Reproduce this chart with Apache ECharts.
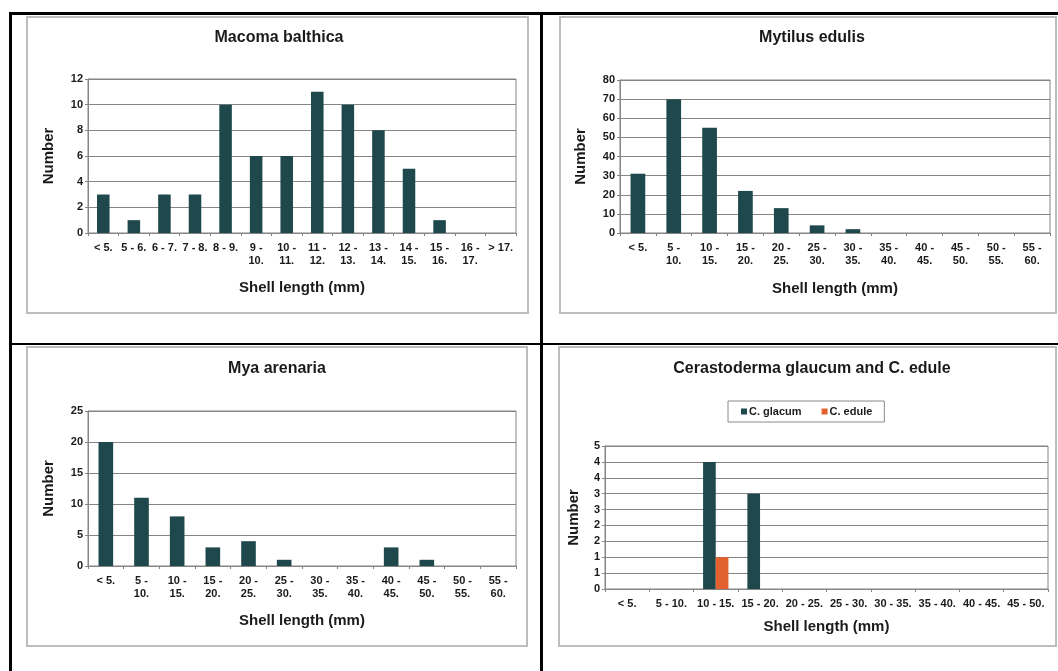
<!DOCTYPE html>
<html>
<head>
<meta charset="utf-8">
<title>Shell length distributions</title>
<script src="https://cdn.jsdelivr.net/npm/echarts@6/dist/echarts.min.js"></script>
<style>
  html, body { margin: 0; padding: 0; background: #ffffff; }
  #chart { width: 1058px; height: 671px; }
</style>
</head>
<body>
<div id="chart"></div>
<script>
// Size classes (mm)
const macomaClasses = ['< 5.', '5 - 6.', '6 - 7.', '7 - 8.', '8 - 9.', '9 - 10.', '10 - 11.', '11 - 12.', '12 - 13.', '13 - 14.', '14 - 15.', '15 - 16.', '16 - 17.', '> 17.'];
const fiveMmClasses = ['< 5.', '5 - 10.', '10 - 15.', '15 - 20.', '20 - 25.', '25 - 30.', '30 - 35.', '35 - 40.', '40 - 45.', '45 - 50.', '50 - 55.', '55 - 60.'];
const cerastodermaClasses = ['< 5.', '5 - 10.', '10 - 15.', '15 - 20.', '20 - 25.', '25 - 30.', '30 - 35.', '35 - 40.', '40 - 45.', '45 - 50.'];

// Counts per size class
const macomaCounts = [3, 1, 3, 3, 10, 6, 6, 11, 10, 8, 5, 1, 0, 0];
const mytilusCounts = [31, 70, 55, 22, 13, 4, 2, 0, 0, 0, 0, 0];
const myaCounts = [20, 11, 8, 3, 4, 1, 0, 0, 3, 1, 0, 0];
const glaucumCounts = [0, 0, 4, 3, 0, 0, 0, 0, 0, 0];
const eduleCounts = [0, 0, 1, 0, 0, 0, 0, 0, 0, 0];

// Panel titles and text
const panelTitles = ['Macoma balthica', 'Mytilus edulis', 'Mya arenaria', 'Cerastoderma glaucum and C. edule'];
const seriesNames = ['C. glacum', 'C. edule'];
const xName = 'Shell length (mm)';
const yName = 'Number';

const TEAL = '#1e484c';
const ORANGE = '#e2612f';
const GRID_GRAY = '#858585';
const TEXT = '#1a1a1a';
const FONT = '"Liberation Sans", Arial, sans-serif';

const chart = echarts.init(document.getElementById('chart'), null, { renderer: 'canvas' });

// Wrap long class labels onto two lines: "9 - 10." -> "9 -\n10."
function wrapLabel(v) {
  if (v.length > 6) {
    const i = v.lastIndexOf(' ');
    return v.slice(0, i) + '\n' + v.slice(i + 1);
  }
  return v;
}

const grids = [
  { left: 88, top: 79, width: 428, height: 154 },
  { left: 620, top: 80, width: 430, height: 153 },
  { left: 88, top: 411, width: 428, height: 155 },
  { left: 605, top: 446, width: 443, height: 143 }
].map(g => Object.assign({ show: true, borderColor: GRID_GRAY, borderWidth: 1, backgroundColor: 'transparent' }, g));

function xAxisFor(idx, data, wrap, gap) {
  return {
    type: 'category', gridIndex: idx, data: data,
    axisLine: { lineStyle: { color: GRID_GRAY, width: 1 } },
    axisTick: { show: true, length: 3, alignWithLabel: false, lineStyle: { color: GRID_GRAY } },
    axisLabel: {
      interval: 0, margin: 8, color: TEXT, fontFamily: FONT, fontWeight: 'bold', fontSize: 11, lineHeight: 13,
      formatter: wrap ? wrapLabel : null
    },
    name: xName, nameLocation: 'middle', nameGap: gap,
    nameTextStyle: { color: TEXT, fontFamily: FONT, fontWeight: 'bold', fontSize: 15 }
  };
}

function yAxisFor(idx, max, interval, gap, fmt) {
  return {
    type: 'value', gridIndex: idx, min: 0, max: max, interval: interval,
    axisLine: { show: true, lineStyle: { color: GRID_GRAY, width: 1 } },
    axisTick: { show: true, length: 3, lineStyle: { color: GRID_GRAY } },
    splitLine: { show: true, lineStyle: { color: GRID_GRAY, width: 1 } },
    axisLabel: { margin: 5, color: TEXT, fontFamily: FONT, fontWeight: 'bold', fontSize: 11, formatter: fmt || null },
    name: yName, nameLocation: 'middle', nameRotate: 90, nameGap: gap,
    nameTextStyle: { color: TEXT, fontFamily: FONT, fontWeight: 'bold', fontSize: 15 }
  };
}

function bars(name, idx, data, color, width) {
  return {
    type: 'bar', name: name, xAxisIndex: idx, yAxisIndex: idx, data: data,
    barWidth: width, barGap: '0%', itemStyle: { color: color }, silent: true, animation: false
  };
}

// Frame and panel boxes
const frame = [];
const black = { stroke: '#000000', lineWidth: 3 };
frame.push({ type: 'line', shape: { x1: 9, y1: 13.5, x2: 1058, y2: 13.5 }, style: black, z: 10 });
frame.push({ type: 'line', shape: { x1: 10.5, y1: 12, x2: 10.5, y2: 671 }, style: black, z: 10 });
frame.push({ type: 'line', shape: { x1: 541.5, y1: 12, x2: 541.5, y2: 671 }, style: black, z: 10 });
frame.push({ type: 'line', shape: { x1: 9, y1: 344, x2: 1058, y2: 344 }, style: { stroke: '#000000', lineWidth: 2 }, z: 10 });
const boxes = [[27, 17, 501, 296], [560, 17, 496, 296], [27, 347, 500, 299], [559, 347, 497, 299]];
boxes.forEach(b => frame.push({
  type: 'rect', shape: { x: b[0], y: b[1], width: b[2], height: b[3] },
  style: { fill: null, stroke: '#bdbdbd', lineWidth: 2 }, z: 1
}));
// Panel titles
const titlePos = [[279, 38], [812, 38], [277, 369], [812, 369]];
panelTitles.forEach((t, i) => frame.push({
  type: 'text', x: titlePos[i][0], y: titlePos[i][1], z: 10,
  style: { text: t, fill: TEXT, font: 'bold 16px ' + FONT, textAlign: 'center', textVerticalAlign: 'middle' }
}));

const option = {
  backgroundColor: '#ffffff',
  animation: false,
  textStyle: { fontFamily: FONT },
  grid: grids,
  xAxis: [
    xAxisFor(0, macomaClasses, true, 47),
    xAxisFor(1, fiveMmClasses, true, 48),
    xAxisFor(2, fiveMmClasses, true, 47),
    xAxisFor(3, cerastodermaClasses, false, 30)
  ],
  yAxis: [
    yAxisFor(0, 12, 2, 32),
    yAxisFor(1, 80, 10, 32),
    yAxisFor(2, 25, 5, 32),
    yAxisFor(3, 4.5, 0.5, 24, v => String(Math.round(v)))
  ],
  legend: {
    data: seriesNames,
    left: 728, top: 401,
    orient: 'horizontal',
    icon: 'rect', itemWidth: 6, itemHeight: 6, itemGap: 20,
    padding: [5, 12, 5, 13],
    borderColor: '#8a8a8a', borderWidth: 1,
    textStyle: { color: TEXT, fontFamily: FONT, fontWeight: 'bold', fontSize: 11, padding: [0, 0, 0, -3] },
    selectedMode: false
  },
  series: [
    bars('Macoma balthica', 0, macomaCounts, TEAL, '41%'),
    bars('Mytilus edulis', 1, mytilusCounts, TEAL, '41%'),
    bars('Mya arenaria', 2, myaCounts, TEAL, '41%'),
    bars(seriesNames[0], 3, glaucumCounts, TEAL, '28.6%'),
    bars(seriesNames[1], 3, eduleCounts, ORANGE, '28.6%')
  ],
  graphic: frame
};

chart.setOption(option);
</script>
</body>
</html>
